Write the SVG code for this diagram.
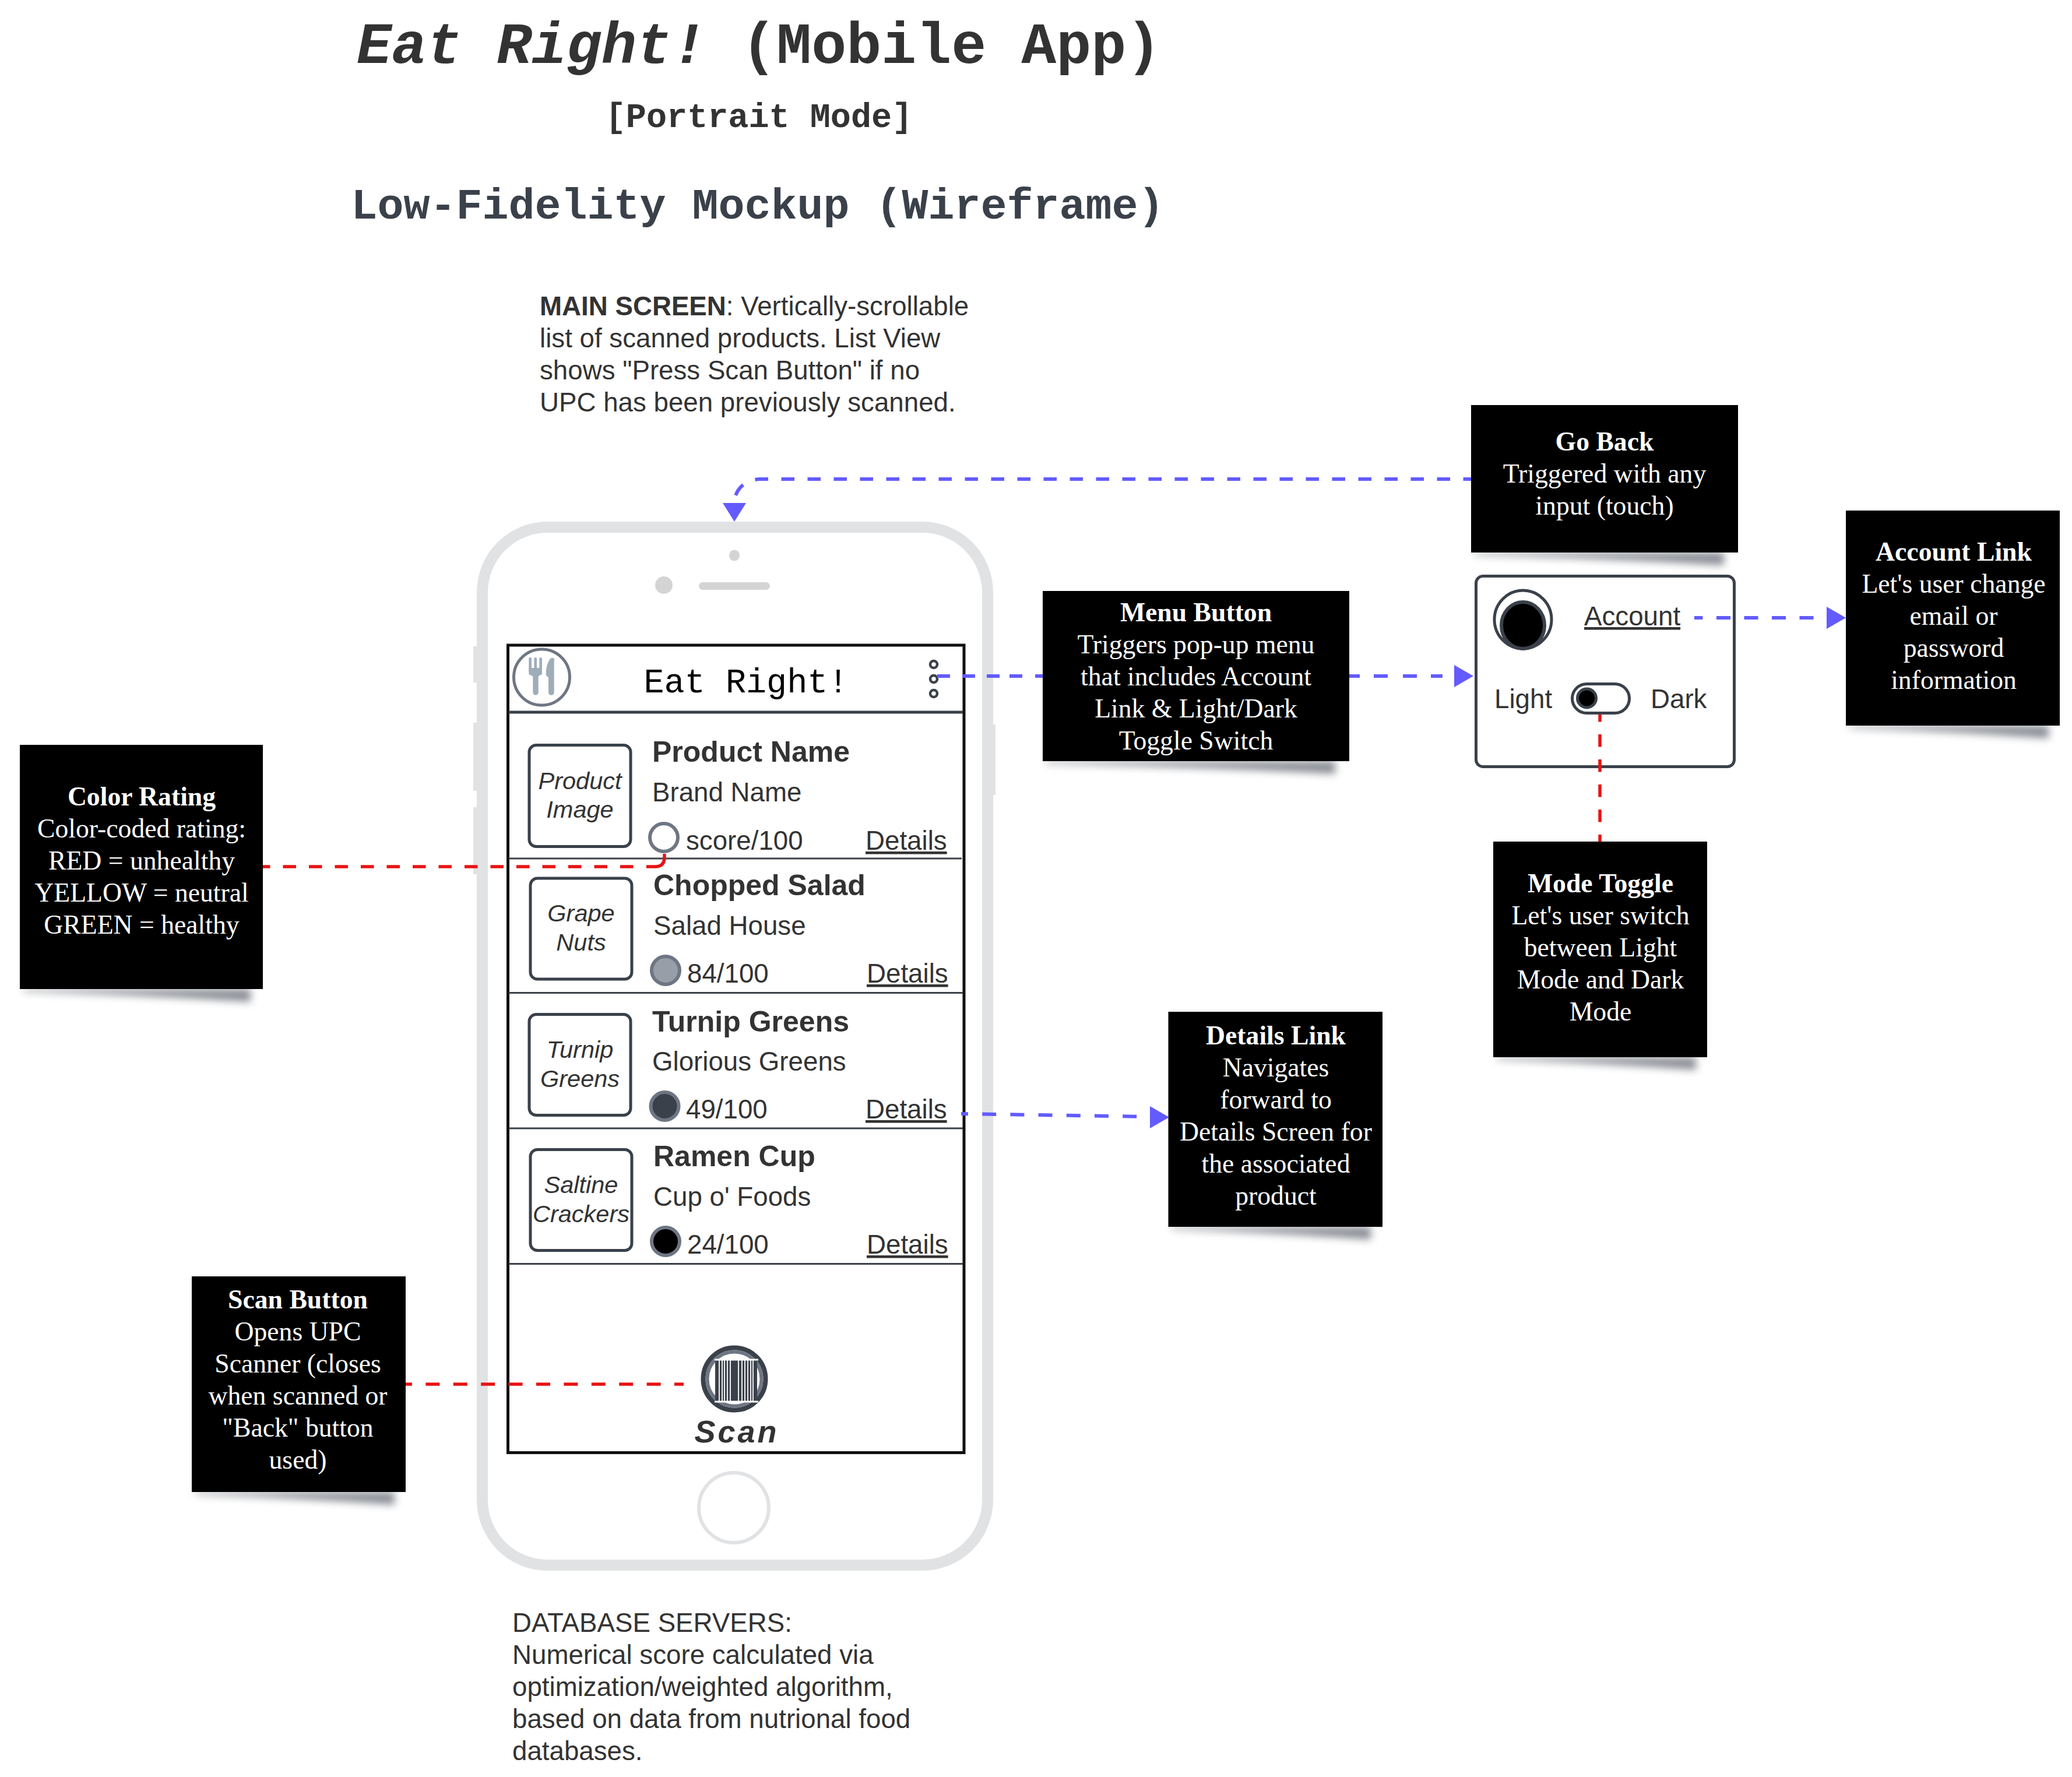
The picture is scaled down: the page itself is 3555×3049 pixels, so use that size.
<svg xmlns="http://www.w3.org/2000/svg" width="3555" height="3049" viewBox="0 0 3555 3049">
<style>
text{font-family:"Liberation Sans",Arial,sans-serif;fill:#333}
.m{font-family:"Liberation Mono",monospace;font-weight:700}
.n{font-size:50px;font-weight:700}
.b{font-size:45.700px}
.i{font-size:41.500px;font-style:italic;text-anchor:middle}
.u{font-size:45.700px;text-decoration:underline}
.note rect{fill:#000}
.note text{font-family:"Liberation Serif",serif;font-size:45.700px;fill:#fff;text-anchor:middle}
.note .t{font-weight:700}
.box{fill:#fff;stroke:#3a414a;stroke-width:5}
.rate{stroke:#6f7683;stroke-width:6}
.div{stroke:#3a414a;stroke-width:3}
.red{fill:none;stroke:#e81313;stroke-width:5.500}
.blue{fill:none;stroke:#635bff;stroke-width:6}
.head{fill:#635bff}
.ph{fill:#e1e2e4}
.sh{fill:#5a5f69;opacity:.7}
</style>
<defs>
<filter id="blur" x="-20%" y="-100%" width="140%" height="300%"><feGaussianBlur stdDeviation="7"/></filter>
</defs>
<g id="title">
<text class="m" x="612" y="108" font-size="100"><tspan font-style="italic">Eat Right!</tspan> (Mobile App)</text>
<text class="m" x="1302" y="218" font-size="58.500" text-anchor="middle">[Portrait Mode]</text>
<text class="m" x="1300" y="375" font-size="75" text-anchor="middle" style="fill:#3a414a">Low-Fidelity Mockup (Wireframe)</text>
</g>
<g id="main-screen-note" font-size="45.700">
<text x="926" y="541"><tspan font-weight="700">MAIN SCREEN</tspan>: Vertically-scrollable</text>
<text x="926" y="596">list of scanned products. List View</text>
<text x="926" y="651">shows "Press Scan Button" if no</text>
<text x="926" y="706">UPC has been previously scanned.</text>
</g>
<g id="phone">
<rect class="ph" x="812" y="1109" width="12" height="62"/>
<rect class="ph" x="812" y="1240" width="12" height="117"/>
<rect class="ph" x="812" y="1385" width="12" height="115"/>
<rect class="ph" x="1696" y="1243" width="12" height="121"/>
<rect x="827.500" y="904.500" width="867" height="1781" rx="112" fill="#fff" stroke="#e1e2e4" stroke-width="19"/>
<ellipse cx="1260" cy="953" rx="9" ry="9.500" fill="#d4d4d4"/>
<circle cx="1139" cy="1004" r="15" fill="#d4d4d4"/>
<rect x="1199" y="999" width="122" height="13" rx="6.500" fill="#d4d4d4"/>
<circle cx="1259" cy="2587" r="60" fill="#fff" stroke="#e1e2e4" stroke-width="6"/>
<rect x="871.500" y="1107" width="782.500" height="1385.500" fill="#fff" stroke="#111" stroke-width="5"/>
</g>
<g id="header">
<line x1="873" y1="1222" x2="1652" y2="1222" stroke="#3a414a" stroke-width="5"/>
<circle cx="929.500" cy="1162" r="48" fill="#fff" stroke="#6f7683" stroke-width="5"/>
<g fill="#9fadb8">
<rect x="907.300" y="1128" width="4.700" height="30" rx="2.350"/>
<rect x="916.400" y="1128" width="4.700" height="30" rx="2.350"/>
<rect x="925.300" y="1128" width="4.700" height="30" rx="2.350"/>
<path d="M907.300 1146h22.700v4q0 8-6.300 10h-10q-6.400-2-6.400-10z"/>
<rect x="914.300" y="1155" width="9.400" height="37.700" rx="4.700"/>
<path d="M950.700 1132v56q0 4.700-4.800 4.700t-4.900-4.700v-26q-4.300-1.500-4.300-6q0-14 6-24q3-4 6-3q3 .8 3 3z"/>
</g>
<text x="1280" y="1188" text-anchor="middle" font-size="58.500" style="font-family:'Liberation Mono',monospace;fill:#000">Eat Right!</text>
<g fill="#fff" stroke="#3a414a" stroke-width="4.500">
<circle cx="1602" cy="1140" r="6"/><circle cx="1602" cy="1165" r="6"/><circle cx="1602" cy="1190" r="6"/>
</g>
</g>
<g id="item-1">
<rect class="box" x="908" y="1278.500" width="174" height="174" rx="12"/>
<text class="i" x="995" y="1354">Product</text><text class="i" x="995" y="1403">Image</text>
<text class="n" x="1119" y="1307">Product Name</text>
<text class="b" x="1119" y="1375">Brand Name</text>
<circle class="rate" cx="1139" cy="1437" r="24" fill="#fff"/>
<text class="b" x="1177" y="1458">score/100</text>
<text class="u" x="1485" y="1458">Details</text>
<line class="div" x1="873" y1="1473" x2="1650" y2="1473"/>
</g>
<g id="item-2">
<rect class="box" x="910" y="1507" width="174" height="173" rx="12"/>
<text class="i" x="997" y="1581">Grape</text><text class="i" x="997" y="1631">Nuts</text>
<text class="n" x="1121" y="1536">Chopped Salad</text>
<text class="b" x="1121" y="1604">Salad House</text>
<circle class="rate" cx="1142" cy="1665" r="24" fill="#979ea8"/>
<text class="b" x="1179" y="1686">84/100</text>
<text class="u" x="1487" y="1686">Details</text>
<line class="div" x1="873" y1="1703.500" x2="1652" y2="1703.500"/>
</g>
<g id="item-3">
<rect class="box" x="908" y="1740.500" width="174" height="173" rx="12"/>
<text class="i" x="995" y="1815">Turnip</text><text class="i" x="995" y="1865">Greens</text>
<text class="n" x="1119" y="1770">Turnip Greens</text>
<text class="b" x="1119" y="1837">Glorious Greens</text>
<circle class="rate" cx="1140.500" cy="1898" r="24" fill="#3a414a"/>
<text class="b" x="1177" y="1919">49/100</text>
<text class="u" x="1485" y="1919">Details</text>
<line class="div" x1="873" y1="1936" x2="1652" y2="1936"/>
</g>
<g id="item-4">
<rect class="box" x="910" y="1972.500" width="174" height="173" rx="12"/>
<text class="i" x="997" y="2047">Saltine</text><text class="i" x="997" y="2097">Crackers</text>
<text class="n" x="1121" y="2001">Ramen Cup</text>
<text class="b" x="1121" y="2069">Cup o' Foods</text>
<circle class="rate" cx="1142" cy="2130" r="24" fill="#000"/>
<text class="b" x="1179" y="2151">24/100</text>
<text class="u" x="1487" y="2151">Details</text>
<line class="div" x1="873" y1="2168.500" x2="1652" y2="2168.500"/>
</g>
<g id="scan">
<circle cx="1260" cy="2366" r="53.500" fill="#fff" stroke="#3a414a" stroke-width="8"/>
<circle cx="1260" cy="2366" r="46.500" fill="#fff" stroke="#6f7683" stroke-width="6"/>
<path d="M1227 2334h72v70h-72z" fill="#3a414a"/>
<path d="M1234 2334v70M1239 2334v70M1243 2334v70M1248 2334v70M1253 2334v70M1267 2334v70M1273 2334v70M1278 2334v70M1283 2334v70M1288 2334v70M1292 2334v70" stroke="#fff" stroke-width="1.800" fill="none"/>
<path d="M1226 2333h75M1226 2405h75" stroke="#fff" stroke-width="3"/>
<text x="1264" y="2475" text-anchor="middle" font-size="54" font-weight="700" font-style="italic" letter-spacing="4">Scan</text>
</g>
<g id="popup">
<rect class="box" x="2532.500" y="988.500" width="443" height="327" rx="12"/>
<ellipse cx="2613" cy="1063" rx="49" ry="50" fill="#fff" stroke="#3a414a" stroke-width="5"/>
<ellipse cx="2613" cy="1073" rx="37" ry="40" fill="#000" stroke="#3a414a" stroke-width="6"/>
<text class="u" x="2718" y="1073">Account</text>
<text class="b" x="2564" y="1215">Light</text>
<text class="b" x="2832" y="1215">Dark</text>
<rect x="2697.500" y="1173.500" width="98" height="50" rx="25" fill="#fff" stroke="#3a414a" stroke-width="5"/>
<circle cx="2722.500" cy="1198" r="16" fill="#000" stroke="#3a414a" stroke-width="5"/>
</g>
<g id="connectors">
<path class="blue" stroke-dasharray="22.500 22.500" stroke-dashoffset="9" d="M2524 822H1304C1282 823 1262 835 1259 864"/>
<path class="head" d="M1240 863H1280L1260 895Z"/>
<path class="blue" stroke-dasharray="22 21 22 20 22 17 22 22 22 511 24 24 24 26 24 24 20 100" d="M1608 1160H2495"/>
<path class="head" d="M2495 1141V1179L2528 1160Z"/>
<path class="blue" stroke-dasharray="24 23.500" stroke-dashoffset="9.500" d="M2907 1060H3134"/>
<path class="head" d="M3134 1041V1079L3167 1060Z"/>
<path class="blue" stroke-dasharray="24 24.200" stroke-dashoffset="12" d="M1649 1911L1974 1916"/>
<path class="head" d="M1973 1898L1973 1936L2006 1917Z"/>
<path class="red" stroke-dasharray="22.500 22" stroke-dashoffset="10" d="M451 1487H1095"/>
<path class="red" d="M1109 1487H1124Q1140 1487 1140 1471V1465"/>
<path class="red" stroke-dasharray="21.500 21.500" stroke-dashoffset="9" d="M2745 1226V1444"/>
<path class="red" stroke-dasharray="24 23.400" stroke-dashoffset="13" d="M696 2375H1173"/>
</g>
<g id="note-go-back" class="note">
<path class="sh" filter="url(#blur)" d="M2530 948V952Q2750 958 2958 970V948Z"/>
<rect x="2524" y="695" width="458" height="253"/>
<text class="t" x="2753" y="773">Go Back</text><text x="2753" y="828">Triggered with any</text><text x="2753" y="883">input (touch)</text>
</g>
<g id="note-account" class="note">
<path class="sh" filter="url(#blur)" d="M3173 1245V1249Q3350 1255 3515 1267V1245Z"/>
<rect x="3167" y="876" width="367" height="369"/>
<text class="t" x="3352" y="962">Account Link</text><text x="3352" y="1017">Let's user change</text><text x="3352" y="1072">email or</text><text x="3352" y="1127">password</text><text x="3352" y="1182">information</text>
</g>
<g id="note-menu" class="note">
<path class="sh" filter="url(#blur)" d="M1795 1306V1310Q2060 1316 2291 1328V1306Z"/>
<rect x="1789" y="1014" width="526" height="292"/>
<text class="t" x="2052" y="1066">Menu Button</text><text x="2052" y="1121">Triggers pop-up menu</text><text x="2052" y="1176">that includes Account</text><text x="2052" y="1231">Link &amp; Light/Dark</text><text x="2052" y="1286">Toggle Switch</text>
</g>
<g id="note-mode" class="note">
<path class="sh" filter="url(#blur)" d="M2568 1814V1818Q2750 1824 2910 1836V1814Z"/>
<rect x="2562" y="1444" width="367" height="370"/>
<text class="t" x="2746" y="1531">Mode Toggle</text><text x="2746" y="1586">Let's user switch</text><text x="2746" y="1641">between Light</text><text x="2746" y="1696">Mode and Dark</text><text x="2746" y="1751">Mode</text>
</g>
<g id="note-details" class="note">
<path class="sh" filter="url(#blur)" d="M2010 2105V2109Q2190 2115 2352 2127V2105Z"/>
<rect x="2004.500" y="1736" width="367.500" height="369"/>
<text class="t" x="2189" y="1792">Details Link</text><text x="2189" y="1847">Navigates</text><text x="2189" y="1902">forward to</text><text x="2189" y="1957">Details Screen for</text><text x="2189" y="2012">the associated</text><text x="2189" y="2067">product</text>
</g>
<g id="note-scan" class="note">
<path class="sh" filter="url(#blur)" d="M335 2560V2564Q510 2570 677 2582V2560Z"/>
<rect x="329" y="2190" width="367" height="370"/>
<text class="t" x="511" y="2245">Scan Button</text><text x="511" y="2300">Opens UPC</text><text x="511" y="2355">Scanner (closes</text><text x="511" y="2410">when scanned or</text><text x="511" y="2465">"Back" button</text><text x="511" y="2520">used)</text>
</g>
<g id="note-color" class="note">
<path class="sh" filter="url(#blur)" d="M40 1697V1701Q240 1707 430 1719V1697Z"/>
<rect x="34" y="1278" width="417" height="419"/>
<text class="t" x="243" y="1382">Color Rating</text><text x="243" y="1437">Color-coded rating:</text><text x="243" y="1492">RED = unhealthy</text><text x="243" y="1547">YELLOW = neutral</text><text x="243" y="1602">GREEN = healthy</text>
</g>
<g id="database-note" font-size="45.700">
<text x="879" y="2800">DATABASE SERVERS:</text>
<text x="879" y="2855">Numerical score calculated via</text>
<text x="879" y="2910">optimization/weighted algorithm,</text>
<text x="879" y="2965">based on data from nutrional food</text>
<text x="879" y="3020">databases.</text>
</g>
</svg>
